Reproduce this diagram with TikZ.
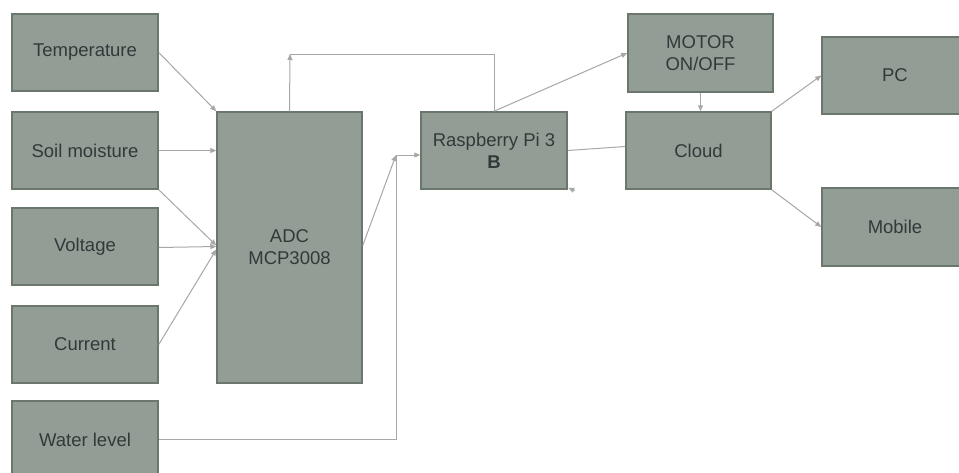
\documentclass[tikz,border=0pt]{standalone}
\usepackage{fontspec}
\setmainfont{Liberation Sans}
\usetikzlibrary{arrows.meta}
\definecolor{boxfill}{HTML}{929E95}
\definecolor{boxline}{HTML}{6B766D}
\definecolor{txtcol}{HTML}{33393A}
\definecolor{conncol}{HTML}{A6A8A6}
\tikzset{
  blk/.style={draw=boxline, fill=boxfill, line width=1.5pt, text=txtcol,
    font=\fontsize{18.5}{22}\selectfont, align=center, inner sep=0pt,
    minimum width=146pt, minimum height=77pt},
  conn/.style={draw=conncol, line width=1pt},
  arr/.style={conn, -{Triangle[length=6pt,width=5pt]}}
}
\begin{document}
\begin{tikzpicture}[x=1pt,y=-1pt]
\useasboundingbox (0,0) rectangle (959,472);
\fill[white] (0,0) rectangle (959,472);
\node[blk] (temp) at (85,52.5) {Temperature};
\node[blk] (soil) at (85,150.5) {Soil moisture};
\node[blk] (volt) at (85,246.5) {Voltage};
\node[blk] (curr) at (85,344.5) {Current};
\node[blk] (water) at (85,439.5) {Water level};
\node[blk, minimum width=145pt, minimum height=271pt] (adc) at (289.5,247.5) {ADC\\MCP3008};
\node[blk] (rpi) at (494,150.5) {Raspberry Pi 3\\\textbf{B}};
\node[blk, minimum width=145pt, minimum height=78pt] (motor) at (700.5,53) {MOTOR\\ON/OFF};
\node[blk, minimum width=145pt] (cloud) at (698.5,150.5) {Cloud};
\node[blk] (pc) at (895,75.5) {PC};
\node[blk, minimum height=78pt] (mobile) at (895,227) {Mobile};

\coordinate (adctop) at (290,54);
\coordinate (join) at (396,155);

\draw[arr] (temp.east) -- (adc.north west);
\draw[arr] (soil.east) -- (soil.east -| adc.west);
\draw[arr] (soil.south east) -- ([yshift=2pt]adc.west);
\draw[arr] ([yshift=-1pt]volt.east) -- ([yshift=1pt]adc.west);
\draw[arr] (curr.east) -- ([yshift=-2pt]adc.west);
\draw[arr] (adc.north) -- (adctop);
\draw[conn] (adctop) -| (rpi.north);
\draw[arr] ([yshift=2pt]adc.east) -- (join);
\draw[conn] (water.east) -| (join);
\draw[arr] (join) -- (join -| rpi.west);
\draw[arr] (rpi.north) -- (motor.west);
\draw[arr] (motor.south) -- (motor.south |- cloud.north);
\draw[conn] (rpi.east) -- ([yshift=4pt]cloud.west);
\draw[arr] ([xshift=7pt,yshift=-1pt]rpi.south east) -- ([xshift=0.5pt,yshift=2pt]rpi.south east);
\draw[arr] (cloud.north east) -- (pc.west);
\draw[arr] (cloud.south east) -- (mobile.west);
\end{tikzpicture}
\end{document}
